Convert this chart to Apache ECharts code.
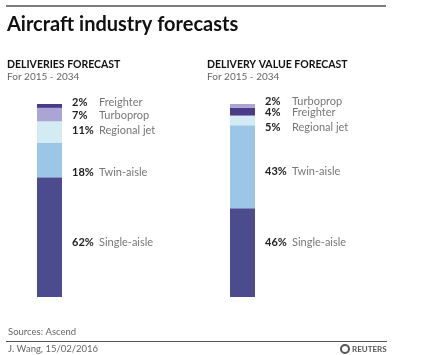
<!DOCTYPE html>
<html><head><meta charset="utf-8">
<script src="https://cdn.jsdelivr.net/npm/echarts@6/dist/echarts.min.js"></script>
<style>html,body{margin:0;padding:0;background:#fff}#c{width:441px;height:355px}</style>
</head><body><div id="c"></div>
<script>
const leftCategories = ['Single-aisle','Twin-aisle','Regional jet','Turboprop','Freighter'];
const leftValues = [62, 18, 11, 7, 2];
const rightCategories = ['Single-aisle','Twin-aisle','Regional jet','Freighter','Turboprop'];
const rightValues = [46, 43, 5, 4, 2];

const colors = {
  'Single-aisle': '#4b4b8d',
  'Twin-aisle': '#9cc6e6',
  'Regional jet': '#d3ebf3',
  'Turboprop': '#aaa5d5',
  'Freighter': '#4a3a88'
};
const leftOffsets = [5, 12, -2, 1, -3];
const rightOffsets = [-10, 5, 7, 1, -4];

function makeSeries(cats, vals, offs, idx) {
  return cats.map((c, i) => ({
    type: 'bar', name: c, stack: 's' + idx, xAxisIndex: idx, yAxisIndex: idx,
    barWidth: 25, silent: true,
    itemStyle: { color: colors[c] },
    label: {
      show: true, position: 'right', distance: 10, offset: [0, offs[i]],
      formatter: '{p|' + vals[i] + '%}{n|' + c + '}',
      rich: {
        p: { fontFamily: 'Lato', fontWeight: 'bold', fontSize: 11, color: '#222', width: 27 },
        n: { fontFamily: 'Lato', fontSize: 11, color: '#777' }
      }
    },
    data: [vals[i]]
  }));
}

const chart = echarts.init(document.getElementById('c'));
chart.setOption({
  animation: false,
  grid: [
    { left: 37, top: 104, width: 25, height: 193 },
    { left: 230, top: 104, width: 25, height: 193 }
  ],
  xAxis: [
    { gridIndex: 0, type: 'category', data: ['d'], show: false },
    { gridIndex: 1, type: 'category', data: ['v'], show: false }
  ],
  yAxis: [
    { gridIndex: 0, type: 'value', min: 0, max: 100, show: false },
    { gridIndex: 1, type: 'value', min: 0, max: 100, show: false }
  ],
  series: makeSeries(leftCategories, leftValues, leftOffsets, 0)
    .concat(makeSeries(rightCategories, rightValues, rightOffsets, 1)),
  graphic: [
    { type: 'rect', shape: { x: 6, y: 5, width: 380, height: 2 }, style: { fill: '#7d7d7d' } },
    { type: 'text', x: 7, y: 15, style: { text: 'Aircraft industry forecasts', font: 'bold 20px Lato', fill: '#111' } },
    { type: 'text', x: 7, y: 59, style: { text: 'DELIVERIES FORECAST', font: 'bold 10.5px Lato', fill: '#111' } },
    { type: 'text', x: 7, y: 72, style: { text: 'For 2015 - 2034', font: '10px Lato', fill: '#666' } },
    { type: 'text', x: 207, y: 59, style: { text: 'DELIVERY VALUE FORECAST', font: 'bold 10.5px Lato', fill: '#111' } },
    { type: 'text', x: 207, y: 72, style: { text: 'For 2015 - 2034', font: '10px Lato', fill: '#666' } },
    { type: 'text', x: 8, y: 327, style: { text: 'Sources: Ascend', font: '9.5px Lato', fill: '#666' } },
    { type: 'rect', shape: { x: 6, y: 341, width: 381, height: 1 }, style: { fill: '#555' } },
    { type: 'text', x: 8, y: 344, style: { text: 'J. Wang, 15/02/2016', font: '9.5px Lato', fill: '#666' } },
    { type: 'circle', shape: { cx: 345, cy: 349, r: 4 }, style: { fill: 'none', stroke: '#555', lineWidth: 2 } },
    { type: 'text', x: 352, y: 345, style: { text: 'REUTERS', font: 'bold 8px Lato', fill: '#555' } }
  ]
});
</script></body></html>
